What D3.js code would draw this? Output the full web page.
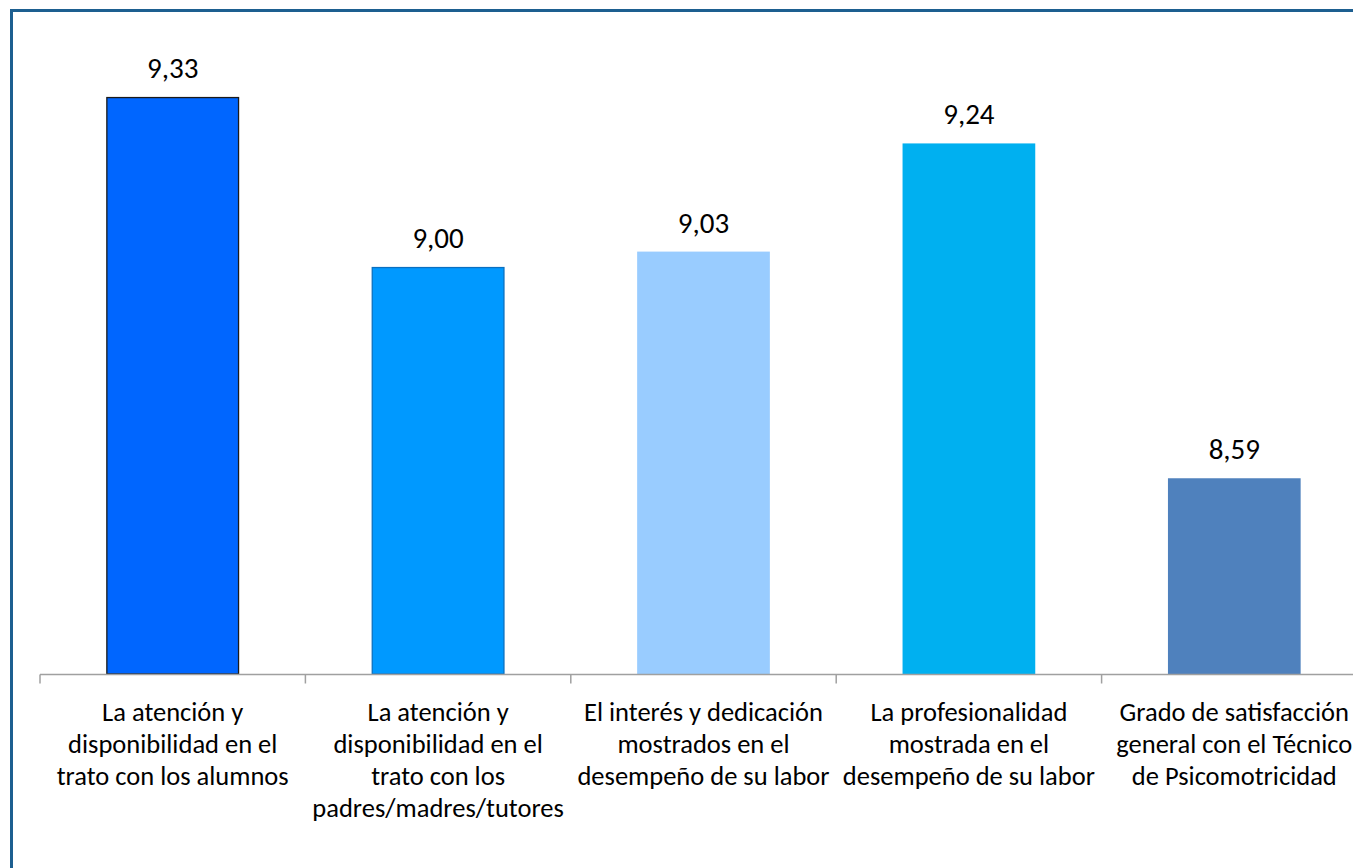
<!DOCTYPE html>
<html>
<head>
<meta charset="utf-8">
<script src="https://cdn.jsdelivr.net/npm/d3@7"></script>
<style>
  html, body { margin: 0; padding: 0; background: #fff; overflow: hidden; }
  svg { display: block; }
  text { font-family: Calibri, Carlito, Lato, "Open Sans", sans-serif; fill: #000; }
</style>
</head>
<body>
<svg id="chart" width="1353" height="868"></svg>
<script>
const categories = [
  ["La atención y", "disponibilidad en el", "trato con los alumnos"],
  ["La atención y", "disponibilidad en el", "trato con los", "padres/madres/tutores"],
  ["El interés y dedicación", "mostrados en el", "desempeño de su labor"],
  ["La profesionalidad", "mostrada en el", "desempeño de su labor"],
  ["Grado de satisfacción", "general con el Técnico", "de Psicomotricidad"]
];
const values = [9.33, 9.00, 9.03, 9.24, 8.59];
const valueLabels = ["9,33", "9,00", "9,03", "9,24", "8,59"];
const fills = ["#0066ff", "#0099ff", "#99ccff", "#00b0f0", "#4f81bd"];
const strokes = ["#1a1a1a", "#0a70c0", "none", "none", "none"];
const yDomain = [8.21, 9.4];

const svg = d3.select("#chart");
const ids = categories.map((c, i) => i);

// frame
svg.append("rect")
  .attr("x", 11.5).attr("y", 10.5)
  .attr("width", 1400).attr("height", 1000)
  .attr("fill", "none").attr("stroke", "#1d5f90").attr("stroke-width", 3);

const x = d3.scaleBand().domain(ids).range([40, 1367]).paddingInner(0.5).paddingOuter(0.25);
const y = d3.scaleLinear().domain(yDomain).range([674, 61]);

// bars
svg.append("g").selectAll("rect").data(ids).join("rect")
  .attr("x", i => x(i) + (strokes[i] === "none" ? 0 : 0.5))
  .attr("y", i => y(values[i]) + (strokes[i] === "none" ? 0 : 0.5))
  .attr("width", i => x.bandwidth() - (strokes[i] === "none" ? 0 : 1))
  .attr("height", i => y.range()[0] - y(values[i]) - (strokes[i] === "none" ? 0 : 0.5))
  .attr("fill", i => fills[i])
  .attr("stroke", i => strokes[i])
  .attr("stroke-width", 1.3);

// axis
const step = x.step();
const axisG = svg.append("g").attr("transform", `translate(0,${y.range()[0] + 0.5})`);
axisG.append("line").attr("x1", 40).attr("x2", 1367).attr("y1", 0).attr("y2", 0)
  .attr("stroke", "#a0a0a0").attr("stroke-width", 1.5);
const tickPos = ids.map(i => x(i) - x.paddingOuter() * step).concat([x(ids.length - 1) + x.bandwidth() + x.paddingOuter() * step]);
axisG.selectAll("line.tick").data(tickPos).join("line").attr("class", "tick")
  .attr("x1", d => d).attr("x2", d => d).attr("y1", 0).attr("y2", 9)
  .attr("stroke", "#a0a0a0").attr("stroke-width", 1.5);

// category labels
const lab = svg.append("g").selectAll("text").data(ids).join("text")
  .attr("text-anchor", "middle")
  .attr("font-size", 26.5)
  .attr("x", i => x(i) + x.bandwidth() / 2)
  .attr("y", 721);
lab.selectAll("tspan").data(i => categories[i].map(t => ({t, cx: x(i) + x.bandwidth() / 2}))).join("tspan")
  .attr("x", d => d.cx)
  .attr("dy", (d, j) => j === 0 ? 0 : 32)
  .text(d => d.t);

// value labels
svg.append("g").selectAll("text").data(ids).join("text")
  .attr("text-anchor", "middle")
  .attr("font-size", 29)
  .attr("x", i => x(i) + x.bandwidth() / 2)
  .attr("y", i => y(values[i]) - 19)
  .text(i => valueLabels[i]);
</script>
</body>
</html>
